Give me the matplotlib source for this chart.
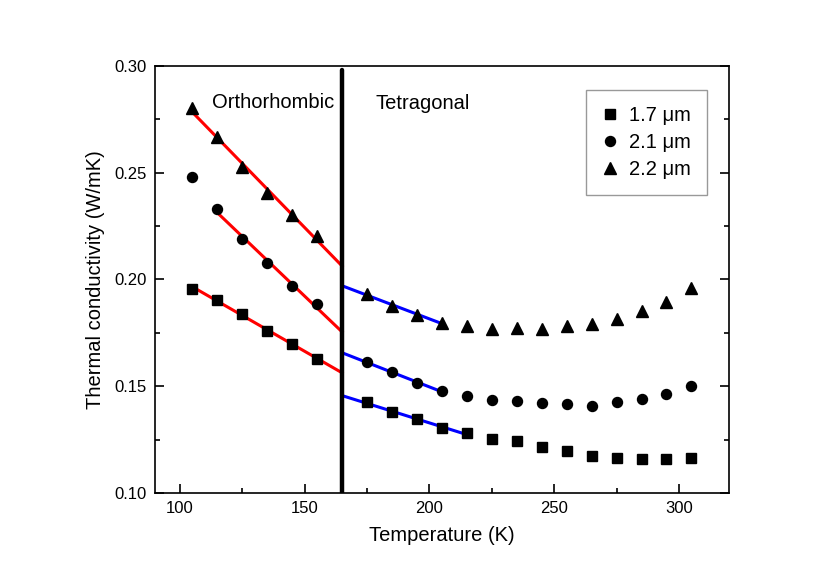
import numpy as np
import matplotlib
matplotlib.use('Agg')
import matplotlib.pyplot as plt
from matplotlib.ticker import MultipleLocator

plt.rcParams['font.family'] = ['Liberation Sans', 'DejaVu Sans']

# temperatures (K)
T_ortho = [105, 115, 125, 135, 145, 155]
T_tetra = [175, 185, 195, 205, 215, 225, 235, 245, 255, 265, 275, 285, 295, 305]

# thermal conductivity (W/mK)
k17_ortho = [0.1957, 0.1905, 0.1838, 0.1760, 0.1698, 0.1627]
k17_tetra = [0.1425, 0.1378, 0.1346, 0.1303, 0.1280, 0.1254, 0.1245, 0.1214,
             0.1198, 0.1172, 0.1165, 0.1159, 0.1159, 0.1164]
k21_ortho = [0.2480, 0.2330, 0.2189, 0.2075, 0.1967, 0.1883]
k21_tetra = [0.1612, 0.1565, 0.1516, 0.1476, 0.1454, 0.1435, 0.1432, 0.1420,
             0.1415, 0.1409, 0.1425, 0.1439, 0.1464, 0.1500]
k22_ortho = [0.2800, 0.2665, 0.2524, 0.2403, 0.2300, 0.2203]
k22_tetra = [0.1930, 0.1877, 0.1833, 0.1797, 0.1782, 0.1766, 0.1774, 0.1766,
             0.1782, 0.1790, 0.1813, 0.1853, 0.1896, 0.1961]

labels = ['1.7 μm', '2.1 μm', '2.2 μm']
T_transition = 165

fig = plt.figure(figsize=(8.33, 5.8), dpi=100)
ax = fig.add_axes([0.186, 0.15, 0.689, 0.7367])

series = [
    (k17_ortho, k17_tetra, 's', 6.5, labels[0], 0, 5),
    (k21_ortho, k21_tetra, 'o', 7.2, labels[1], 1, 4),
    (k22_ortho, k22_tetra, '^', 8.0, labels[2], 0, 4),
]

for ko, kt, mk, ms, lab, o_start, t_n in series:
    T_all = T_ortho + T_tetra
    k_all = ko + kt
    ax.plot(T_all, k_all, linestyle='none', marker=mk, ms=ms, color='black',
            label=lab, zorder=3)
    # linear fits in each phase
    xo = np.array(T_ortho[o_start:])
    p = np.polyfit(xo, ko[o_start:], 1)
    xr = np.array([xo[0], T_transition])
    ax.plot(xr, np.polyval(p, xr), color='red', lw=2.2, zorder=2)
    xt = np.array(T_tetra[:t_n])
    p = np.polyfit(xt, kt[:t_n], 1)
    xb = np.array([T_transition, xt[-1]])
    ax.plot(xb, np.polyval(p, xb), color='blue', lw=2.2, zorder=2)

ax.plot([T_transition, T_transition], [0.1, 0.298], color='black', lw=3.2,
        solid_capstyle='round', zorder=4)

ax.text(112.8, 0.2827, 'Orthorhombic', fontsize=14.5, va='center')
ax.text(178.4, 0.2824, 'Tetragonal', fontsize=14.5, va='center')

ax.set_xlim(90, 320)
ax.set_ylim(0.10, 0.30)
ax.xaxis.set_major_locator(MultipleLocator(50))
ax.xaxis.set_minor_locator(MultipleLocator(25))
ax.yaxis.set_major_locator(MultipleLocator(0.05))
ax.yaxis.set_minor_locator(MultipleLocator(0.025))
ax.yaxis.set_major_formatter(plt.FormatStrFormatter('%.2f'))
ax.tick_params(which='both', direction='in', top=False, right=True,
               labelsize=12, width=1.2, pad=6)
ax.tick_params(which='major', length=6.5)
ax.tick_params(which='minor', length=3.5)
for s in ax.spines.values():
    s.set_linewidth(1.2)

ax.set_xlabel('Temperature (K)', fontsize=14.5, labelpad=7)
ax.set_ylabel('Thermal conductivity (W/mK)', fontsize=14.5, labelpad=7)

leg = ax.legend(loc='upper right', bbox_to_anchor=(0.962, 0.943),
                fontsize=14.5, frameon=True, fancybox=False, borderpad=0.8,
                labelspacing=0.4, handletextpad=0.55, handlelength=0.8,
                borderaxespad=0)
leg.get_frame().set_edgecolor('gray')
leg.get_frame().set_linewidth(1.0)

fig.savefig('out.png', dpi=100)
